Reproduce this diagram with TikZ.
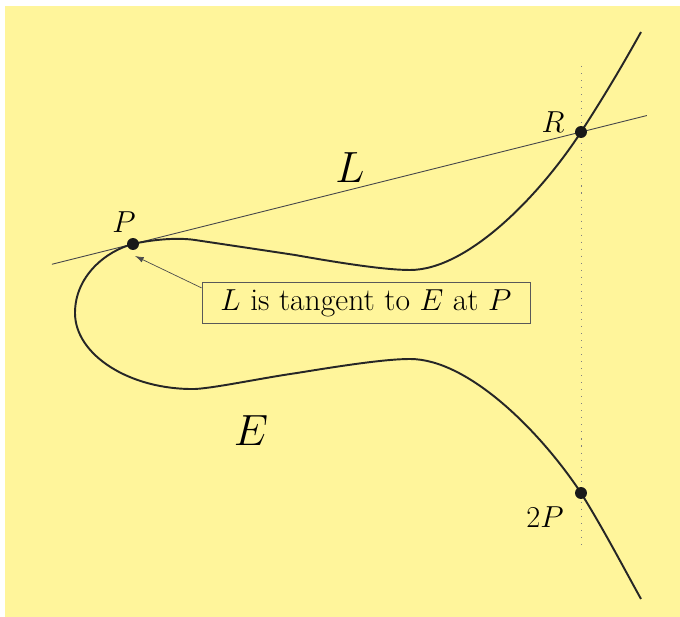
\documentclass[tikz,border=0pt]{standalone}
\usepackage{amsmath}
\usepackage{amssymb}
\usepackage{tikz}
\usetikzlibrary{calc,arrows.meta}
\definecolor{paleyellow}{RGB}{255,245,155}

\begin{document}
\begin{tikzpicture}[x=0.02cm,y=-0.02cm,
  curve/.style={line width=1.1pt,black!85,line join=round},
  dot/.style={fill=black!90},
  lab/.style={font=\fontsize{18}{22}\selectfont},
  biglab/.style={font=\fontsize{26}{30}\selectfont}]
  % Background
  \fill[white] (0,0) rectangle (680,617);
  \fill[paleyellow] (5,6) rectangle (680,617);
  \useasboundingbox (0,0) rectangle (680,617);
  % Points on the curve
  \coordinate (P) at (133,244);
  \coordinate (R) at (581,132);
  \coordinate (Q) at (581,493);
  \coordinate (Etop) at (641,32);
  \coordinate (Ebot) at (641,599);
  % Vertical line through R and 2P
  \coordinate (Vt) at (581,66);
  \coordinate (Vb) at (581,547);
  \draw[black!50,dash pattern=on 0.6pt off 3.4pt] (Vt) -- (Vb);
  % Tangent line L through P and R
  \draw[black!70,line width=0.5pt] ($(P)!-0.181!(R)$) -- ($(R)!-0.147!(P)$);
  % The curve E
  \draw[curve] (Etop) .. controls (621.6,67) and (602.8,98.4) .. (R)
    .. controls (540,195) and (468,270) .. (410,270)
    .. controls (385,270) and (340,263) .. (295,255)
    .. controls (262,250) and (215,243) .. (195,240)
    .. controls (175,237) and (148,240.4) .. (P)
    .. controls (106,251) and (75,276) .. (75,313)
    .. controls (75,355) and (130,390) .. (195,389)
    .. controls (215,388) and (262,378) .. (297,373)
    .. controls (340,366) and (385,359) .. (410,359)
    .. controls (468,359) and (540,431) .. (Q)
    .. controls (602.8,528) and (621.6,564) .. (Ebot);
  \fill[dot] (P) circle (3.4pt);
  \fill[dot] (R) circle (3.4pt);
  \fill[dot] (Q) circle (3.4pt);
  % Labels
  \node[lab] (Plab) at (124,222) {$P$};
  \node[lab] (Rlab) at (553,122) {$R$};
  \node[lab] (Qlab) at (545,517) {$2P$};
  \node[biglab] (Llab) at (350,168) {$L$};
  \node[biglab] (Elab) at (251,431) {$E$};
  % Note on tangency
  \node[lab,draw=black!65,line width=0.5pt,inner xsep=10.5pt,inner ysep=4pt]
    (tangent) at (366,303) {$L$ is tangent to $E$ at $P$};
  \draw[black!70,line width=0.4pt,-{Latex[length=5pt,width=3.2pt]}]
    ([yshift=-3.4pt]tangent.north west) -- ([shift={(1.1pt,-6.8pt)}]P);
\end{tikzpicture}
\end{document}
